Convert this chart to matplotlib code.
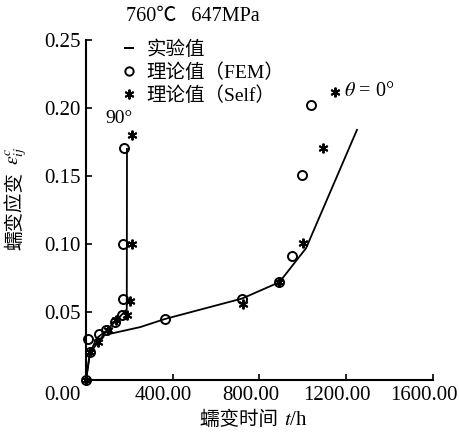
import matplotlib
matplotlib.use("Agg")
import matplotlib.pyplot as plt
import matplotlib.transforms as mtransforms
from matplotlib.lines import Line2D

plt.rcParams['font.family'] = ['Liberation Serif', 'Noto Sans CJK SC', 'DejaVu Sans']
plt.rcParams['mathtext.fontset'] = 'stix'

# experimental curves
exp_0_t = [0, 18, 80, 250, 365, 720, 892, 1015, 1250]
exp_0_e = [0, 0.020, 0.033, 0.039, 0.045, 0.060, 0.072, 0.097, 0.184]
exp_90_t = [0, 18, 50, 92, 134, 164, 188, 189]
exp_90_e = [0, 0.020, 0.031, 0.036, 0.043, 0.048, 0.052, 0.170]

# FEM results
fem_t = [0, 10, 18, 60, 92, 134, 164, 172, 172, 177, 365, 720, 892, 948, 997, 1040]
fem_e = [0, 0.030, 0.021, 0.034, 0.037, 0.043, 0.048, 0.060, 0.100, 0.171,
         0.045, 0.060, 0.072, 0.091, 0.151, 0.202]

# self-consistent results
self_t = [0, 18, 55, 100, 140, 188, 203, 214, 211, 722, 892, 1002, 1091, 1148]
self_e = [0, 0.021, 0.028, 0.037, 0.044, 0.048, 0.058, 0.100, 0.180,
          0.056, 0.072, 0.101, 0.171, 0.212]

xticks = [0, 400, 800, 1200, 1600]
xlabels = ["0.00", "400.00", "800.00", "1200.00", "1600.00"]
yticks = [0.05, 0.10, 0.15, 0.20, 0.25]
ylabels = ["0.05", "0.10", "0.15", "0.20", "0.25"]

fig = plt.figure(figsize=(4.6, 4.4), dpi=100)
ax = fig.add_axes([0.187, 0.136, 0.754, 0.773])

ax.plot(exp_0_t, exp_0_e, color='k', lw=1.3)
ax.plot(exp_90_t, exp_90_e, color='k', lw=1.3)
ax.plot(fem_t, fem_e, linestyle='none', marker='o', markersize=6.5,
        markerfacecolor='none', markeredgecolor='k', markeredgewidth=1.4,
        clip_on=False)
ax.plot(self_t, self_e, linestyle='none', marker=(6, 2, 0), markersize=7,
        color='k', markeredgewidth=1.4, clip_on=False)

ax.set_xlim(0, 1600)
ax.set_ylim(0, 0.25)
ax.spines['top'].set_visible(False)
ax.spines['right'].set_visible(False)
for s in ['left', 'bottom']:
    ax.spines[s].set_linewidth(1.5)

ax.set_xticks(xticks)
ax.set_xticklabels(xlabels)
ax.set_yticks(yticks)
ax.set_yticklabels(ylabels)
ax.tick_params(direction='in', length=4, width=1.2, labelsize=15, pad=4)

# x tick labels sit a little left of their ticks
shift = mtransforms.ScaledTranslation(-9 / 100, 0, fig.dpi_scale_trans)
for lab in ax.get_xticklabels():
    lab.set_transform(lab.get_transform() + shift)
ax.get_xticklabels()[0].set_horizontalalignment('right')
ax.get_xticklabels()[0].set_transform(ax.get_xticklabels()[0].get_transform()
                                      + mtransforms.ScaledTranslation(4 / 100, 0, fig.dpi_scale_trans))

# axis labels (CJK and math parts drawn separately)
fig.text(0.615, 0.045, "蠕变时间 ", ha='right', va='center', fontsize=14)
fig.text(0.617, 0.045, "$t$/h", ha='left', va='center', fontsize=15)
fig.text(0.033, 0.52, "蠕变应变", ha='center', va='center', rotation=90, fontsize=14)
fig.text(0.036, 0.645, "$\\varepsilon^{c}_{ij}$", ha='center', va='center',
         rotation=90, fontsize=14)

fig.text(0.42, 0.963, "760℃   647MPa", ha='center', va='center', fontsize=14.5)

ax.text(150, 0.192, "90°", ha='center', va='center', fontsize=14)
ax.text(1190, 0.212, "$\\theta$ = 0°", ha='left', va='center', fontsize=14.5)

handles = [
    Line2D([], [], color='k', marker='_', linestyle='none', markersize=7, markeredgewidth=1.4),
    Line2D([], [], linestyle='none', marker='o', markersize=6, markerfacecolor='none',
           markeredgecolor='k', markeredgewidth=1.4),
    Line2D([], [], linestyle='none', marker=(6, 2, 0), markersize=7, color='k',
           markeredgewidth=1.4),
]
ax.legend(handles, ["实验值", "理论值（FEM）", "理论值（Self）"], loc='upper left',
          bbox_to_anchor=(0.08, 1.022), frameon=False, fontsize=14,
          handlelength=0.8, handletextpad=0.5, labelspacing=0.22, borderaxespad=0)

fig.savefig("out.png", dpi=100)
